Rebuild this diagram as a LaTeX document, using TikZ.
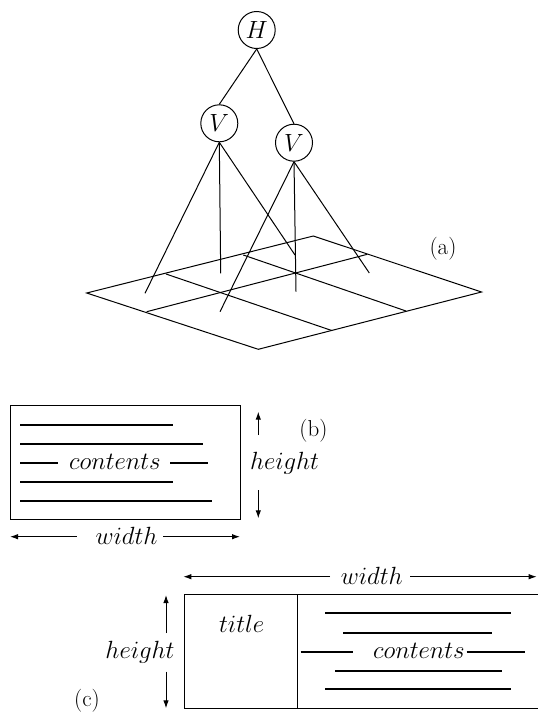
\documentclass[tikz,border=0pt]{standalone}
\usetikzlibrary{arrows.meta}
\begin{document}
\begin{tikzpicture}[x=1pt,y=-1pt,
  ln/.style={line width=1pt},
  vnode/.style={circle, draw, line width=1pt, minimum size=37pt, inner sep=0pt, font=\fontsize{24}{28}\selectfont},
  lbl/.style={font=\fontsize{23}{27}\selectfont, inner sep=0pt},
  txt/.style={font=\fontsize{24}{28}\selectfont, inner sep=0pt},
  ctxt/.style={font=\fontsize{26}{30}\selectfont, inner sep=0pt},
  cline/.style={line width=2pt},
  dim/.style={line width=1pt, -{Latex[length=8pt,width=5.5pt]}}]
\useasboundingbox (0,0) rectangle (538,712);

% ---------- (a) ----------
\node[vnode] (H) at (256.7,30) {$H$};
\node[vnode] (V1) at (219.3,123.3) {$V$};
\node[vnode] (V2) at (294,142.7) {$V$};
\draw[ln] (H.south) -- (V1.north);
\draw[ln] (H.south) -- (V2.north);

\coordinate (gL) at (86.7,293);
\coordinate (gT) at (313.3,236);
\coordinate (gR) at (481.5,292);
\coordinate (gB) at (258.3,349.3);
\coordinate (m1) at (146.7,311.7);
\coordinate (m2) at (367.3,254.3);
\coordinate (d1a) at (166,274);
\coordinate (d1b) at (331.7,330.5);
\coordinate (d2a) at (243.3,255);
\coordinate (d2b) at (406,311);
\draw[ln] (gL) -- (gT) -- (gR) -- (gB) -- cycle;
\draw[ln] (m1) -- (m2);
\draw[ln] (d1a) -- (d1b);
\draw[ln] (d2a) -- (d2b);

\coordinate (a1) at (145,293.3);
\coordinate (a2) at (220.7,273.3);
\coordinate (a3) at (295,255);
\coordinate (b1) at (220,311.7);
\coordinate (b2) at (296,291.7);
\coordinate (b3) at (369.3,273);
\draw[ln] (V1.south) -- (a1);
\draw[ln] (V1.south) -- (a2);
\draw[ln] (V1.south) -- (a3);
\draw[ln] (V2.south) -- (b1);
\draw[ln] (V2.south) -- (b2);
\draw[ln] (V2.south) -- (b3);
\node[lbl] (la) at (443,248.5) {(a)};

% ---------- (b) ----------
\node[draw, ln, minimum width=230.7pt, minimum height=114pt, inner sep=0pt] (boxb) at (125.35,462) {};
\draw[cline] (20,425) -- (173.3,425);
\draw[cline] (20,444.3) -- (202.7,444.3);
\node[ctxt] (contb) at (115,462) {$contents$};
\draw[cline] (20,462.7) -- (58.3,462.7);
\draw[cline] (170,462.7) -- (208.3,462.7);
\draw[cline] (20,481.7) -- (173.3,481.7);
\draw[cline] (20,500.7) -- (212.3,500.7);

\node[txt] (hb) at (284.5,463) {$height$};
\coordinate (hbT) at (258.3,411.7);
\coordinate (hbTs) at (258.3,435);
\coordinate (hbB) at (258.3,518.3);
\coordinate (hbBs) at (258.3,490);
\draw[dim] (hbTs) -- (hbT);
\draw[dim] (hbBs) -- (hbB);
\node[lbl] (lb) at (313.5,431) {(b)};

\node[txt] (wb) at (126.5,536) {$width$};
\coordinate (wbL) at (10,536.7);
\coordinate (wbLs) at (76.7,536.7);
\coordinate (wbR) at (240,536.7);
\coordinate (wbRs) at (163,536.7);
\draw[dim] (wbLs) -- (wbL);
\draw[dim] (wbRs) -- (wbR);

% ---------- (c) ----------
\coordinate (cTR) at (539,594);
\coordinate (cTL) at (184.3,594);
\coordinate (cBL) at (184.3,708.3);
\coordinate (cBR) at (539,708.3);
\draw[ln] (cTR) -- (cTL) -- (cBL) -- (cBR);
\coordinate (divT) at (297.3,594);
\coordinate (divB) at (297.3,708.3);
\draw[ln] (divT) -- (divB);
\node[txt] (title) at (241.7,624) {$title$};
\draw[cline] (325,613.3) -- (510.7,613.3);
\draw[cline] (343.3,632.7) -- (491.7,632.7);
\node[ctxt] (contc) at (419,651) {$contents$};
\draw[cline] (300.7,651.7) -- (353.3,651.7);
\draw[cline] (466.7,651.7) -- (525,651.7);
\draw[cline] (335,670.7) -- (501.7,670.7);
\draw[cline] (325,689.3) -- (510.7,689.3);

\node[txt] (wc) at (371.7,576) {$width$};
\coordinate (wcL) at (183.3,576.7);
\coordinate (wcLs) at (330,576.7);
\coordinate (wcR) at (536.7,576.7);
\coordinate (wcRs) at (410,576.7);
\draw[dim] (wcLs) -- (wcL);
\draw[dim] (wcRs) -- (wcR);

\node[txt] (hc) at (140,652) {$height$};
\coordinate (hcT) at (166,595);
\coordinate (hcTs) at (166,633);
\coordinate (hcB) at (166,708.3);
\coordinate (hcBs) at (166,671.7);
\draw[dim] (hcTs) -- (hcT);
\draw[dim] (hcBs) -- (hcB);
\node[lbl] (lc) at (87,701) {(c)};
\end{tikzpicture}
\end{document}
